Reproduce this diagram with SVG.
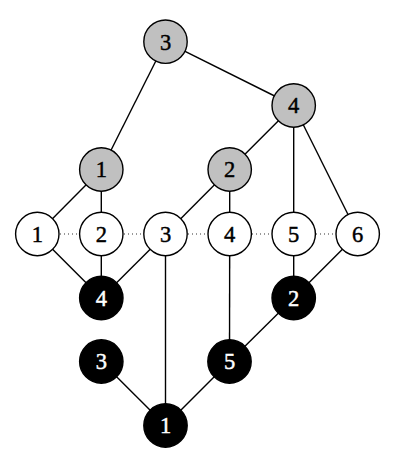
<svg xmlns="http://www.w3.org/2000/svg" width="396" height="470" viewBox="0 0 396 470">
<style>
.e{stroke:#000;stroke-width:1.4;fill:none}
.d{stroke:#333;stroke-width:1.2;stroke-dasharray:1,3;fill:none}
.g circle{fill:#c0c0c0;stroke:#000;stroke-width:1.4}
.w circle{fill:#fff;stroke:#000;stroke-width:1.4}
.b circle{fill:#000;stroke:#000;stroke-width:1.4}
text{font-family:"Liberation Serif","Times New Roman",serif;font-size:22.5px;text-anchor:middle;stroke:#000;stroke-width:0.45}
.b text{fill:#fff;stroke:#fff}
</style>
<rect width="396" height="470" fill="#fff"/>
<g id="connectors">
<line class="e" x1="165.5" y1="41.7" x2="101.3" y2="169.5"/>
<line class="e" x1="165.5" y1="41.7" x2="293.7" y2="105.5"/>
<line class="e" x1="293.7" y1="105.5" x2="229.7" y2="169.5"/>
<line class="e" x1="293.7" y1="105.5" x2="293.7" y2="234"/>
<line class="e" x1="293.7" y1="105.5" x2="357.7" y2="234"/>
<line class="e" x1="101.3" y1="169.5" x2="37.3" y2="234"/>
<line class="e" x1="101.3" y1="169.5" x2="101.3" y2="234"/>
<line class="e" x1="229.7" y1="169.5" x2="165.5" y2="234"/>
<line class="e" x1="229.7" y1="169.5" x2="229.7" y2="234"/>
<line class="e" x1="37.3" y1="234" x2="101.3" y2="298"/>
<line class="e" x1="101.3" y1="234" x2="101.3" y2="298"/>
<line class="e" x1="165.5" y1="234" x2="101.3" y2="298"/>
<line class="e" x1="165.5" y1="234" x2="165.5" y2="425.5"/>
<line class="e" x1="229.7" y1="234" x2="229.5" y2="361.5"/>
<line class="e" x1="293.7" y1="234" x2="293.7" y2="298"/>
<line class="e" x1="357.7" y1="234" x2="293.7" y2="298"/>
<line class="e" x1="293.7" y1="298" x2="229.5" y2="361.5"/>
<line class="e" x1="101.3" y1="361.5" x2="165.5" y2="425.5"/>
<line class="e" x1="229.5" y1="361.5" x2="165.5" y2="425.5"/>
<line class="d" x1="60" y1="234" x2="80" y2="234"/>
<line class="d" x1="124" y1="234" x2="144" y2="234"/>
<line class="d" x1="188" y1="234" x2="208" y2="234"/>
<line class="d" x1="252" y1="234" x2="272" y2="234"/>
<line class="d" x1="316" y1="234" x2="336" y2="234"/>
</g>
<g id="g3" class="g"><circle cx="165.5" cy="41.7" r="21.7"/><text x="165.5" y="49.6">3</text></g>
<g id="g4" class="g"><circle cx="293.7" cy="105.5" r="21.7"/><text x="293.7" y="113.4">4</text></g>
<g id="g1" class="g"><circle cx="101.3" cy="169.5" r="21.7"/><text x="101.3" y="177.4">1</text></g>
<g id="g2" class="g"><circle cx="229.7" cy="169.5" r="21.7"/><text x="229.7" y="177.4">2</text></g>
<g id="w1" class="w"><circle cx="37.3" cy="234" r="21.7"/><text x="37.3" y="241.9">1</text></g>
<g id="w2" class="w"><circle cx="101.3" cy="234" r="21.7"/><text x="101.3" y="241.9">2</text></g>
<g id="w3" class="w"><circle cx="165.5" cy="234" r="21.7"/><text x="165.5" y="241.9">3</text></g>
<g id="w4" class="w"><circle cx="229.7" cy="234" r="21.7"/><text x="229.7" y="241.9">4</text></g>
<g id="w5" class="w"><circle cx="293.7" cy="234" r="21.7"/><text x="293.7" y="241.9">5</text></g>
<g id="w6" class="w"><circle cx="357.7" cy="234" r="21.7"/><text x="357.7" y="241.9">6</text></g>
<g id="b4" class="b"><circle cx="101.3" cy="298" r="21.7"/><text x="101.3" y="305.9">4</text></g>
<g id="b2" class="b"><circle cx="293.7" cy="298" r="21.7"/><text x="293.7" y="305.9">2</text></g>
<g id="b3" class="b"><circle cx="101.3" cy="361.5" r="21.7"/><text x="101.3" y="369.4">3</text></g>
<g id="b5" class="b"><circle cx="229.5" cy="361.5" r="21.7"/><text x="229.5" y="369.4">5</text></g>
<g id="b1" class="b"><circle cx="165.5" cy="425.5" r="21.7"/><text x="165.5" y="433.4">1</text></g>
</svg>
